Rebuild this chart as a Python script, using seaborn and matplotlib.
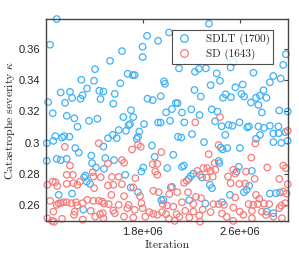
import pandas as pd
import matplotlib
matplotlib.use("Agg")
import matplotlib.pyplot as plt
from matplotlib.lines import Line2D
from matplotlib.ticker import FuncFormatter
import seaborn as sns

# ==============================
# Data (iteration in units of 1e6, severity kappa)
# ==============================
sdlt_iter = [
    1.088, 1.033, 1.405, 1.529, 1.628, 1.292, 1.397, 1.675, 1.717, 1.733,
    1.614, 1.835, 1.798, 1.799, 1.839, 1.121, 1.198, 1.339, 1.440, 1.474,
    1.215, 1.302, 1.285, 1.450, 1.568, 1.556, 1.017, 1.157, 1.055, 1.171,
    1.234, 1.355, 1.424, 1.639, 1.702, 1.721, 1.683, 1.810, 1.260, 1.882,
    1.948, 1.975, 1.983, 1.926, 2.017, 2.347, 2.983, 2.961, 2.099, 2.231,
    2.264, 2.322, 2.411, 2.526, 2.550, 2.715, 2.879, 2.851, 2.940, 2.227,
    2.279, 2.361, 2.438, 2.485, 2.463, 2.529, 2.566, 2.616, 2.638, 2.694,
    2.736, 2.769, 2.798, 2.822, 2.756, 2.626, 1.992, 2.041, 2.073, 2.088,
    2.124, 2.201, 2.269, 2.370, 2.417, 1.926, 1.948, 2.143, 2.397, 2.452,
    2.540, 2.599, 2.678, 2.756, 2.802, 2.921, 2.998, 2.785, 2.928,
    1.006, 1.060, 1.077, 1.132, 1.149, 1.193, 1.242, 1.270, 1.474, 1.006,
    1.088, 1.121, 1.171, 1.374, 1.380, 1.413, 1.325, 1.314, 1.336, 1.364,
    1.105, 1.215, 1.308, 1.694, 1.601, 1.551, 1.512, 1.584, 1.661, 1.760,
    1.771, 1.750, 1.876, 1.490, 1.562, 1.479, 1.655, 1.788, 1.804, 1.898,
    1.700, 1.760, 1.953, 2.025, 2.091, 2.118, 2.207, 2.306, 2.444, 2.460,
    2.052, 2.002, 2.124, 2.140, 2.217, 2.196, 2.179, 2.289, 2.355, 2.372,
    2.427, 2.432, 2.041, 2.184, 2.317, 2.455, 1.969, 2.510, 2.664, 2.851,
    2.879, 2.923, 2.978, 2.998, 2.879, 2.945, 2.482, 2.736, 2.769, 2.603,
    2.498, 2.593, 2.702, 2.576, 2.680, 2.659, 2.636, 2.521, 2.851, 2.901,
    2.934, 2.824, 2.879,
]
sdlt_kappa = [
    0.3790, 0.3626, 0.3470, 0.3523, 0.3585, 0.3402, 0.3396, 0.3440, 0.3432, 0.3432,
    0.3380, 0.3683, 0.3613, 0.3547, 0.3281, 0.3321, 0.3325, 0.3346, 0.3332, 0.3327,
    0.3286, 0.3303, 0.3281, 0.3279, 0.3312, 0.3249, 0.3259, 0.3255, 0.3188, 0.3172,
    0.3156, 0.3140, 0.3153, 0.3164, 0.3208, 0.3164, 0.3112, 0.3119, 0.3102, 0.3272,
    0.3297, 0.3392, 0.3376, 0.3651, 0.3704, 0.3760, 0.3565, 0.3497, 0.3475, 0.3453,
    0.3472, 0.3475, 0.3443, 0.3481, 0.3515, 0.3447, 0.3426, 0.3386, 0.3410, 0.3337,
    0.3295, 0.3368, 0.3396, 0.3309, 0.3287, 0.3291, 0.3354, 0.3312, 0.3295, 0.3257,
    0.3287, 0.3301, 0.3335, 0.3287, 0.3241, 0.3372, 0.3194, 0.3215, 0.3253, 0.3253,
    0.3193, 0.3213, 0.3177, 0.3213, 0.3199, 0.3129, 0.3129, 0.3130, 0.3137, 0.3105,
    0.3108, 0.3130, 0.3104, 0.3104, 0.3095, 0.3104, 0.3199, 0.3193, 0.3206,
    0.2997, 0.3012, 0.3042, 0.3033, 0.3042, 0.3038, 0.2966, 0.2937, 0.2976, 0.2884,
    0.2897, 0.2889, 0.2897, 0.2918, 0.2870, 0.2842, 0.2790, 0.2778, 0.2752, 0.2737,
    0.2667, 0.2675, 0.2573, 0.3119, 0.3081, 0.3050, 0.3029, 0.3029, 0.3076, 0.3038,
    0.3072, 0.3025, 0.2982, 0.2902, 0.2889, 0.2833, 0.2795, 0.2816, 0.2842, 0.2910,
    0.2714, 0.2684, 0.2633, 0.3140, 0.3038, 0.3033, 0.3055, 0.3004, 0.2969, 0.2957,
    0.2923, 0.2838, 0.2846, 0.2854, 0.2803, 0.2787, 0.2769, 0.2778, 0.2731, 0.2710,
    0.2884, 0.2870, 0.2718, 0.2633, 0.2612, 0.2620, 0.2637, 0.3114, 0.3098, 0.3108,
    0.3059, 0.3061, 0.3068, 0.3012, 0.3004, 0.2999, 0.3050, 0.3025, 0.3050, 0.2966,
    0.2966, 0.2846, 0.2820, 0.2816, 0.2725, 0.2699, 0.2684, 0.2667, 0.2675, 0.2678,
    0.2682, 0.2560, 0.2550,
]

sd_iter = [
    2.438, 2.234, 1.436, 1.155, 1.198, 1.011, 1.055, 1.077, 1.093, 1.171,
    1.221, 1.171, 1.226, 1.259, 1.281, 1.386, 1.391, 1.452, 1.397, 1.033,
    1.088, 1.105, 1.121, 1.143, 1.171, 1.209, 1.248, 1.259, 1.303, 1.341,
    1.391, 1.436, 1.463, 1.479, 1.060, 1.237, 1.369, 1.446, 1.469, 1.011,
    1.050, 1.066, 1.132, 1.231, 1.303, 1.407, 1.474, 1.711, 1.760, 1.783,
    1.953, 1.628, 1.645, 1.512, 1.882, 1.920, 1.903, 1.920, 1.738, 1.545,
    1.601, 1.512, 1.556, 1.628, 1.721, 1.887, 1.931, 1.540, 1.645, 1.777,
    1.518, 1.601, 1.683, 1.788, 1.556, 1.672, 1.733, 1.799, 1.854, 1.887,
    1.959, 1.568, 1.645, 1.721, 1.821, 1.920, 2.345, 2.394, 2.300, 2.333,
    2.361, 2.399, 2.273, 2.328, 2.378, 2.250, 2.163, 2.140, 2.031, 2.085,
    2.019, 2.174, 2.240, 2.283, 2.124, 2.217, 2.383, 2.427, 1.964, 2.002,
    2.052, 2.151, 2.217, 2.295, 2.361, 2.455, 1.992, 2.080, 2.102, 2.184,
    2.267, 2.014, 2.064, 2.273, 2.427, 2.730, 2.697, 2.961, 2.983, 2.829,
    2.548, 2.564, 2.504, 2.653, 2.928, 2.725, 2.526, 2.598, 2.647, 2.998,
    2.736, 2.763, 2.961, 2.989, 2.564, 2.471, 2.548, 2.675, 2.713, 2.752,
    2.802, 2.845, 2.945, 2.978, 2.603, 2.702, 2.785, 2.928, 2.493, 2.631,
    2.702, 2.818, 2.879, 2.950, 2.548, 2.998,
]
sd_kappa = [
    0.3164, 0.3130, 0.2997, 0.2974, 0.2854, 0.2731, 0.2752, 0.2748, 0.2723, 0.2795,
    0.2795, 0.2737, 0.2742, 0.2731, 0.2752, 0.2812, 0.2784, 0.2780, 0.2710, 0.2629,
    0.2603, 0.2612, 0.2614, 0.2620, 0.2620, 0.2614, 0.2620, 0.2599, 0.2614, 0.2635,
    0.2629, 0.2629, 0.2624, 0.2612, 0.2560, 0.2560, 0.2565, 0.2544, 0.2550, 0.2518,
    0.2501, 0.2495, 0.2514, 0.2539, 0.2509, 0.2528, 0.2518, 0.2957, 0.2987, 0.2974,
    0.2940, 0.2889, 0.2872, 0.2867, 0.2863, 0.2865, 0.2816, 0.2795, 0.2774, 0.2782,
    0.2782, 0.2727, 0.2731, 0.2735, 0.2714, 0.2693, 0.2684, 0.2667, 0.2659, 0.2659,
    0.2608, 0.2603, 0.2603, 0.2614, 0.2567, 0.2582, 0.2571, 0.2582, 0.2557, 0.2546,
    0.2557, 0.2550, 0.2528, 0.2522, 0.2528, 0.2539, 0.2927, 0.2870, 0.2838, 0.2838,
    0.2820, 0.2827, 0.2795, 0.2778, 0.2782, 0.2820, 0.2757, 0.2744, 0.2714, 0.2684,
    0.2672, 0.2684, 0.2654, 0.2646, 0.2620, 0.2608, 0.2608, 0.2608, 0.2608, 0.2599,
    0.2592, 0.2565, 0.2560, 0.2573, 0.2557, 0.2548, 0.2544, 0.2544, 0.2527, 0.2522,
    0.2535, 0.2514, 0.2501, 0.2496, 0.2985, 0.2995, 0.2905, 0.2854, 0.2838, 0.2842,
    0.2827, 0.2803, 0.2784, 0.2816, 0.2769, 0.2769, 0.2742, 0.2737, 0.2739, 0.2735,
    0.2667, 0.2642, 0.2688, 0.2675, 0.2650, 0.2603, 0.2586, 0.2608, 0.2603, 0.2608,
    0.2612, 0.2608, 0.2599, 0.2614, 0.2560, 0.2565, 0.2560, 0.2582, 0.2527, 0.2539,
    0.2518, 0.2539, 0.2528, 0.2518, 0.2501, 0.3076,
]

labels = ["SDLT (1700)", "SD (1643)"]
colors = ["#3db2f7", "#f77b7b"]

df = pd.concat([
    pd.DataFrame({"iteration": [v * 1e6 for v in sdlt_iter], "kappa": sdlt_kappa, "method": labels[0]}),
    pd.DataFrame({"iteration": [v * 1e6 for v in sd_iter], "kappa": sd_kappa, "method": labels[1]}),
], ignore_index=True)

# ==============================
# Plot
# ==============================
sns.set_style("white")
plt.rcParams["mathtext.fontset"] = "cm"
plt.rcParams["axes.unicode_minus"] = False

fig = plt.figure(figsize=(2.99, 2.57), dpi=100)
ax = fig.add_axes([0.154, 0.140, 0.809, 0.786])

for lab, col in zip(labels, colors):
    sub = df[df["method"] == lab]
    sns.scatterplot(data=sub, x="iteration", y="kappa", ax=ax, s=22,
                    marker="o", legend=False, clip_on=False)
    coll = ax.collections[-1]
    coll.set_facecolor("none")
    coll.set_edgecolor(col)
    coll.set_linewidth(0.9)

ax.set_xlim(1.0e6, 3.0e6)
ax.set_ylim(0.25, 0.379)
ax.set_xticks([1.8e6, 2.6e6])
ax.xaxis.set_major_formatter(FuncFormatter(lambda v, p: "{:.1e}".format(v)))
ax.set_yticks([0.26, 0.28, 0.30, 0.32, 0.34, 0.36])
ax.yaxis.set_major_formatter(FuncFormatter(lambda v, p: "{:g}".format(round(v, 2))))

ax.tick_params(direction="in", length=3, width=0.8, color="#444444",
               top=True, right=True, labelsize=8, pad=4)
for lbl in ax.get_xticklabels() + ax.get_yticklabels():
    lbl.set_family("Liberation Sans")
    lbl.set_color("#222222")
for sp in ax.spines.values():
    sp.set_color("#444444")
    sp.set_linewidth(1.0)

ax.set_xlabel("Iteration", family="cmr10", fontsize=8.5, labelpad=3)
ax.set_ylabel(r"Catastrophe severity $\kappa$", family="cmr10", fontsize=8.5, labelpad=1)

handles = [Line2D([], [], ls="", marker="o", ms=5.5, mfc="none", mec=c, mew=0.9)
           for c in colors]
leg = ax.legend(handles, labels, loc="upper right", bbox_to_anchor=(0.94, 0.945),
                frameon=True, fancybox=False, prop={"family": "cmr10", "size": 8},
                handletextpad=1.2, borderpad=0.35, labelspacing=0.3,
                handlelength=1.5, borderaxespad=0)
leg.get_frame().set_edgecolor("#222222")
leg.get_frame().set_linewidth(0.8)

fig.savefig("out.png", dpi=100)
